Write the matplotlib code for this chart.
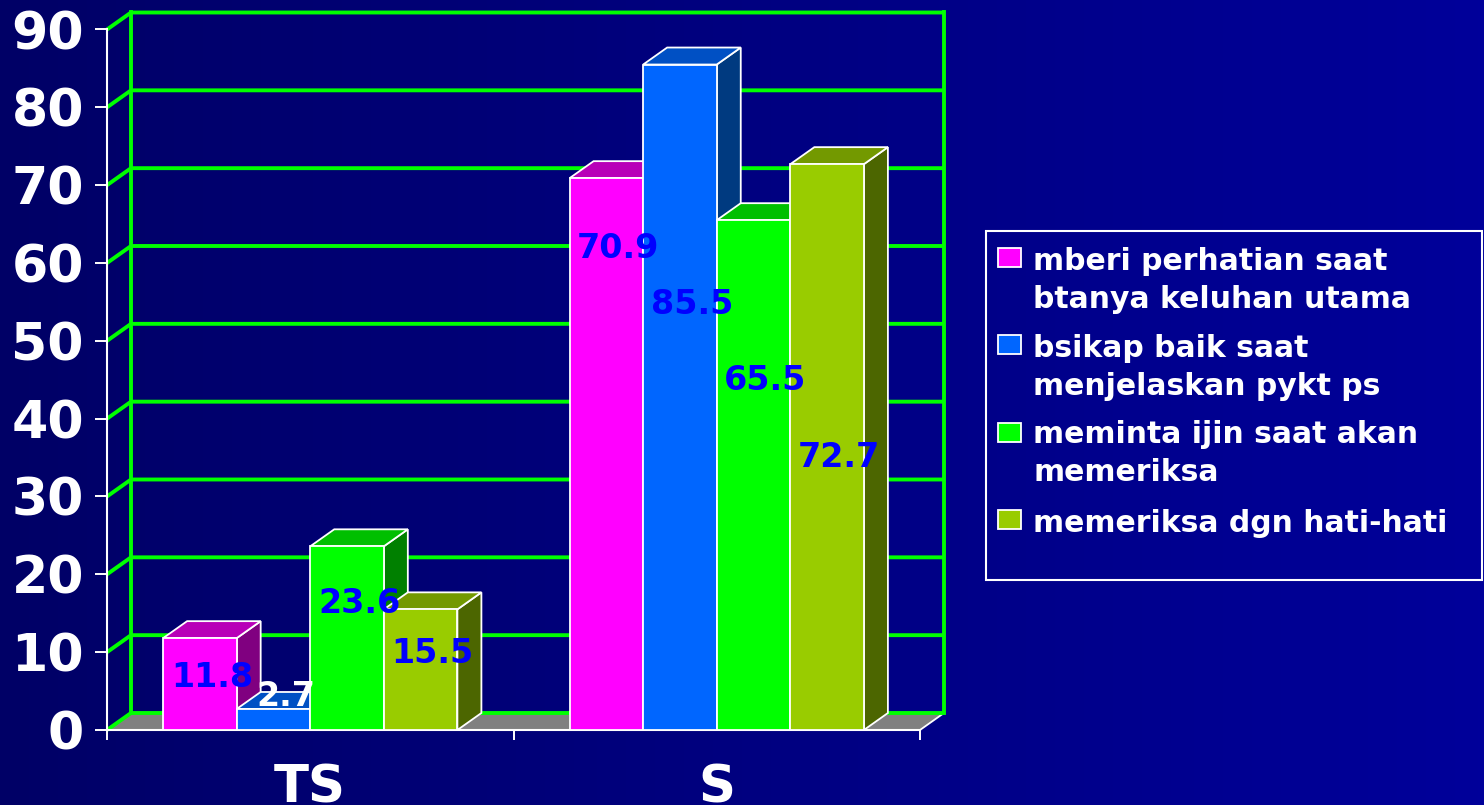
import numpy as np
import matplotlib
matplotlib.use("Agg")
import matplotlib.pyplot as plt
from matplotlib.patches import Polygon, Rectangle
from matplotlib.colors import LinearSegmentedColormap

plt.rcParams["font.family"] = ["DejaVu Sans"]
plt.rcParams["font.weight"] = "bold"

# ---- data -------------------------------------------------------------
categories = ["TS", "S"]
series_labels = [
    "mberi perhatian saat\nbtanya keluhan utama",
    "bsikap baik saat\nmenjelaskan pykt ps",
    "meminta ijin saat akan\nmemeriksa",
    "memeriksa dgn hati-hati",
]
values_ts = [11.8, 2.7, 23.6, 15.5]
values_s = [70.9, 85.5, 65.5, 72.7]
yticks = list(range(0, 91, 10))

# ---- styling ----------------------------------------------------------
front_colors = ["#FF00FF", "#0066FF", "#00FF00", "#99CC00"]
top_colors = ["#B800B8", "#0050C4", "#00BF00", "#739900"]
side_colors = ["#800080", "#003A80", "#008000", "#4C6600"]
label_colors = [["#0000FF", "white", "#0000FF", "#0000FF"],
                ["#0000FF", "#0000FF", "#0000FF", "#0000FF"]]
# baseline heights (value units) where the value labels sit
label_y = [[5.5, 3.1, 15.0, 8.6],
           [60.7, 53.5, 43.65, 33.8]]

W, H, DPI = 1484, 805, 100
fig = plt.figure(figsize=(W / DPI, H / DPI), dpi=DPI)

# horizontal navy gradient background
bg = fig.add_axes([0, 0, 1, 1], zorder=-10)
cmap = LinearSegmentedColormap.from_list("bg", ["#000066", "#00009A"])
bg.imshow(np.linspace(0, 1, 256).reshape(1, -1), aspect="auto", cmap=cmap,
          extent=[0, 1, 0, 1])
bg.set_axis_off()

# front plane of the 3-D box
left_px, base_px, right_px, top_px = 107, 730, 920, 29.5
ax = fig.add_axes([left_px / W, (H - base_px) / H,
                   (right_px - left_px) / W, (base_px - top_px) / H])
ax.set_xlim(0, 2)
ax.set_ylim(0, 90)
ax.patch.set_visible(False)

# depth offset of the back wall, converted from pixels to data units
depth_px = (24, 17)
dx = depth_px[0] / ((right_px - left_px) / 2)
dy = depth_px[1] / ((base_px - top_px) / 90)

GRID = "#00FF00"
# floor
ax.add_patch(Polygon([(0, 0), (2, 0), (2 + dx, dy), (dx, dy)], closed=True,
                     fc="#808080", ec="none", clip_on=False, zorder=1))
ax.plot([2, 2 + dx], [0, dy], color="white", lw=1.3, clip_on=False, zorder=1.2)
# back wall + side wall grid
for v in yticks:
    ax.plot([0, dx, 2 + dx], [v, v + dy, v + dy], color=GRID, lw=2.8,
            clip_on=False, zorder=1.5, solid_capstyle="butt")
for xb in (dx, 2 + dx):
    ax.plot([xb, xb], [dy, 90 + dy], color=GRID, lw=2.8, clip_on=False,
            zorder=1.5, solid_capstyle="projecting")

# bars
bar_w = 0.181
for c, vals in enumerate([values_ts, values_s]):
    start = c + 0.5 - 2 * bar_w
    for i, v in enumerate(vals):
        x0 = start + i * bar_w
        z = 3 + c + i * 0.1
        ax.add_patch(Polygon([(x0 + bar_w, 0), (x0 + bar_w + dx, dy),
                              (x0 + bar_w + dx, v + dy), (x0 + bar_w, v)],
                             closed=True, fc=side_colors[i], ec="white",
                             lw=1.3, clip_on=False, zorder=z))
        ax.add_patch(Polygon([(x0, v), (x0 + bar_w, v),
                              (x0 + bar_w + dx, v + dy), (x0 + dx, v + dy)],
                             closed=True, fc=top_colors[i], ec="white",
                             lw=1.3, clip_on=False, zorder=z + 0.01))
        ax.bar(x0, v, bar_w, align="edge", color=front_colors[i],
               edgecolor="white", linewidth=1.3, zorder=z + 0.02, clip_on=False)
        ax.text(x0 + bar_w / 2 + dx / 2, label_y[c][i], f"{v:.1f}",
                ha="center", va="baseline", fontsize=24, fontweight="bold",
                color=label_colors[c][i], zorder=20)

# axes lines and ticks
for s in ("top", "right"):
    ax.spines[s].set_visible(False)
for s in ("left", "bottom"):
    ax.spines[s].set_color("white")
    ax.spines[s].set_linewidth(1.5)
    ax.spines[s].set_zorder(2)

ax.set_yticks(yticks)
ax.set_yticklabels([str(t) for t in yticks])
ax.tick_params(axis="y", colors="white", labelsize=37.5, length=8.6, width=1.4,
               pad=8.0)
ax.set_xticks([0, 1, 2])
ax.set_xticklabels([])
ax.set_xticks([0.5, 1.5], minor=True)
ax.set_xticklabels(categories, minor=True)
ax.tick_params(axis="x", which="major", colors="white", length=7.2, width=1.4)
ax.tick_params(axis="x", which="minor", length=0, labelsize=37, pad=24,
               labelcolor="white")
for lbl in ax.get_yticklabels() + ax.get_xticklabels(minor=True):
    lbl.set_fontweight("bold")

# legend box
fig.add_artist(Rectangle((986 / W, (H - 580) / H), (1482 - 986) / W,
                         (580 - 231) / H, transform=fig.transFigure,
                         fill=False, ec="white", lw=1.5))
marker_tops = [248, 335, 423, 510]
first_baselines = [269.5, 356.5, 442.5, 531.5]
line_step = 38.5
for i, lab in enumerate(series_labels):
    fig.add_artist(Rectangle((998 / W, (H - marker_tops[i] - 19) / H),
                             23 / W, 19 / H, transform=fig.transFigure,
                             fc=front_colors[i], ec="white", lw=1.3))
    for k, line in enumerate(lab.split("\n")):
        fig.text(1033 / W, (H - first_baselines[i] - k * line_step) / H, line,
                 color="white", fontsize=21.5, fontweight="bold",
                 va="baseline", ha="left")

fig.savefig("out.png", dpi=DPI)
